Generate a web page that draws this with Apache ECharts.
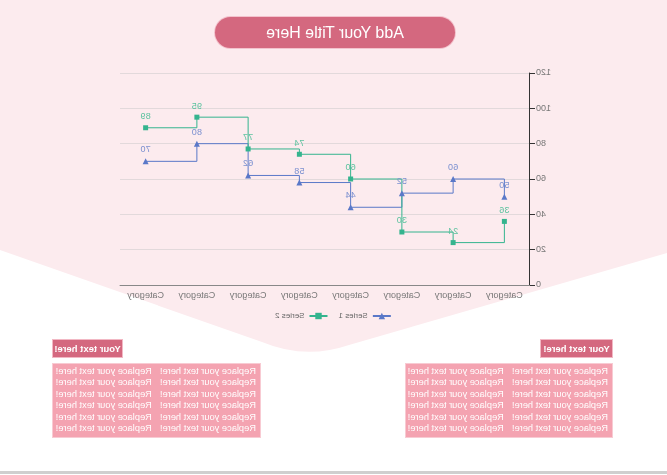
<!DOCTYPE html>
<html>
<head>
<meta charset="utf-8">
<script src="https://cdn.jsdelivr.net/npm/echarts@6/dist/echarts.min.js"></script>
<style>
  html, body { margin:0; padding:0; background:#fff; }
  #page { position:relative; width:667px; height:475px; overflow:hidden; transform:scaleX(-1); font-family:"Liberation Sans", Arial, sans-serif; }
  #bg { position:absolute; left:0; top:0; width:667px; height:475px; background:#fcebee; clip-path: path('M0 0 L667 0 L667 250 L405 342 Q362 360 318 345 L0 253 Z'); }
  #chart { position:absolute; left:0; top:0; width:667px; height:475px; }
  .title { position:absolute; left:212px; top:17px; width:240px; height:31px; border-radius:16px; background:#d4687f; color:#fff; font-size:16px; line-height:31px; text-align:center; box-shadow:0 0 0 1px #f3c3cd; }
  .hdr { position:absolute; top:340px; height:17px; background:#d4687f; color:#fff; font-weight:bold; font-size:9.5px; line-height:17px; text-align:center; box-shadow:0 0 0 1px #f2b8c4; }
  .body { position:absolute; top:364px; height:73px; background:#f4a3b1; box-shadow:0 0 0 1px #f8cbd3; color:#fff; font-size:9.3px; }
  .body table { border-collapse:collapse; margin:2px auto 0 auto; }
  .body td { padding:0 4px; height:11.4px; line-height:11.4px; white-space:nowrap; }
  .bottomline { position:absolute; left:0; top:471px; width:667px; height:3px; background:#cfcfcf; }
</style>
</head>
<body>
<div id="page">
  <div id="bg"></div>
  <div id="chart"></div>
  <div class="title">Add Your Title Here</div>
  <div class="hdr" style="left:55px;width:71px;">Your text here!</div>
  <div class="body" id="b1" style="left:55px;width:206px;"></div>
  <div class="hdr" style="left:545px;width:69px;">Your text here!</div>
  <div class="body" id="b2" style="left:407px;width:207px;"></div>
  <div class="bottomline"></div>
</div>
<script>
const categories = ["Category","Category","Category","Category","Category","Category","Category","Category"];
const series1 = [50, 60, 52, 44, 58, 62, 80, 70];
const series2 = [36, 24, 30, 60, 74, 77, 95, 89];
const yTicks = { min: 0, max: 120, interval: 20 };
const boxText = "Replace your text here!";
const boxRows = 6;

function fillBox(id) {
  let h = '<table>';
  for (let i = 0; i < boxRows; i++) h += '<tr><td>' + boxText + '</td><td>' + boxText + '</td></tr>';
  h += '</table>';
  document.getElementById(id).innerHTML = h;
}
fillBox('b1'); fillBox('b2');

const chart = echarts.init(document.getElementById('chart'), null, { renderer: 'canvas' });
const blue = '#5a78c8', green = '#34b48e';
chart.setOption({
  backgroundColor: 'transparent',
  textStyle: { fontFamily: '"Liberation Sans", Arial, sans-serif' },
  grid: { left: 137, right: 120, top: 73, bottom: 190 },
  legend: {
    top: 307, left: 'center', itemWidth: 18, itemHeight: 8, itemGap: 10,
    textStyle: { fontSize: 8, color: '#666' },
    data: ['Series 1', 'Series 2']
  },
  xAxis: {
    type: 'category', data: categories, boundaryGap: true,
    axisLine: { lineStyle: { color: '#888' } },
    axisTick: { lineStyle: { color: '#888' } },
    axisLabel: { fontSize: 9, color: '#777', margin: 6 }
  },
  yAxis: {
    type: 'value', min: yTicks.min, max: yTicks.max, interval: yTicks.interval,
    axisLine: { show: true, lineStyle: { color: '#333' } },
    axisTick: { show: true, lineStyle: { color: '#333' } },
    axisLabel: { fontSize: 9, color: '#777', margin: 6 },
    splitLine: { lineStyle: { color: '#e2d9db' } }
  },
  series: [
    { name: 'Series 1', type: 'line', step: 'start', data: series1,
      symbol: 'triangle', symbolSize: 6, color: blue,
      lineStyle: { width: 1, color: blue },
      label: { show: true, position: 'top', fontSize: 9, color: '#7b90d0', distance: 4 } },
    { name: 'Series 2', type: 'line', step: 'start', data: series2,
      symbol: 'rect', symbolSize: 5, color: green,
      lineStyle: { width: 1, color: green },
      label: { show: true, position: 'top', fontSize: 9, color: '#5cc29f', distance: 4 } }
  ]
});
</script>
</body>
</html>
